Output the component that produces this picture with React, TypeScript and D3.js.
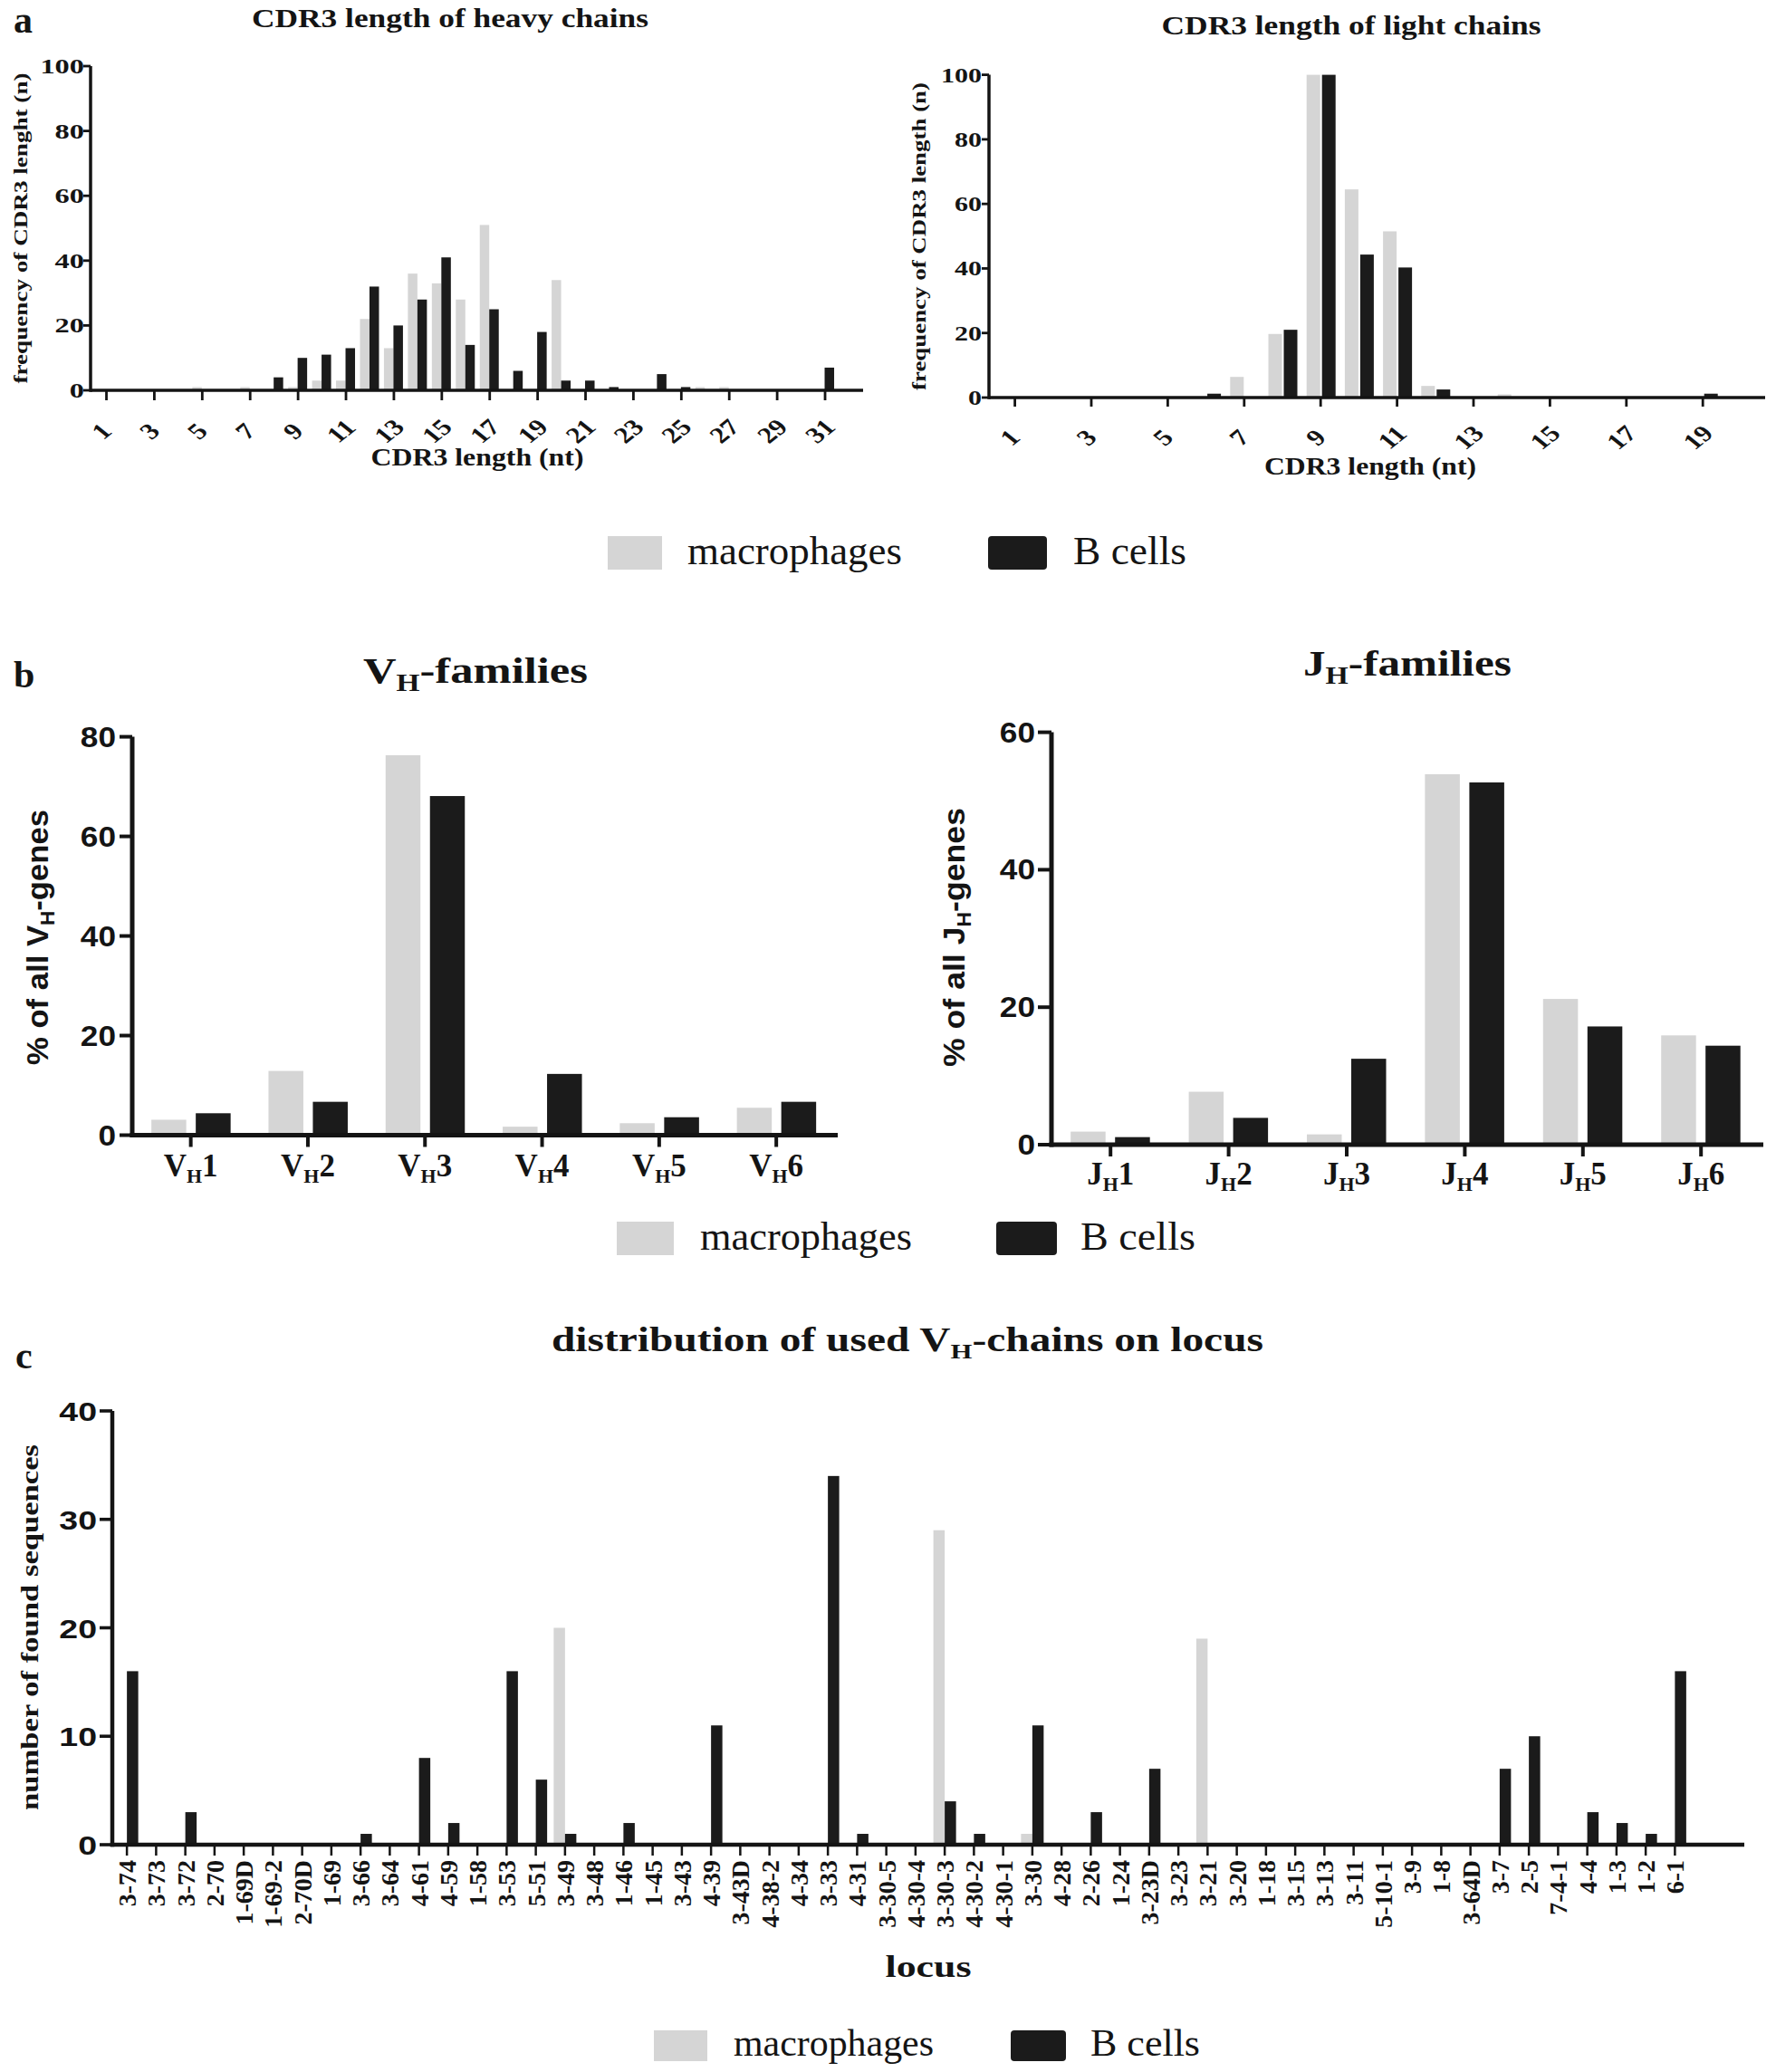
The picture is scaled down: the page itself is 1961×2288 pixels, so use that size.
import React from "react";
import * as d3 from "d3";

const GREY = "#d5d5d5";
const BLACK = "#1b1b1b";
const INK = "#141414";
const SERIF = "Liberation Serif, Times New Roman, serif";
const SANS = "Liberation Sans, Arial, sans-serif";

// a: CDR3 length of heavy chains
const heavyLengths = [1, 2, 3, 4, 5, 6, 7, 8, 9, 10, 11, 12, 13, 14, 15, 16, 17, 18, 19, 20, 21, 22, 23, 24, 25, 26, 27, 28, 29, 30, 31, 32];
const heavyMacrophages = [0, 0, 0, 0, 1, 0, 1, 0, 1, 3, 3, 22, 13, 36, 33, 28, 51, 0, 0, 34, 0, 0, 0, 0, 0, 1, 1, 0, 0, 0, 0, 0];
const heavyBcells = [0, 0, 0, 0, 0, 0, 0, 4, 10, 11, 13, 32, 20, 28, 41, 14, 25, 6, 18, 3, 3, 1, 0, 5, 1, 0, 0, 0, 0, 0, 7, 0];
const heavyTickLabels = [1, 3, 5, 7, 9, 11, 13, 15, 17, 19, 21, 23, 25, 27, 29, 31];
const heavyYTicks = [0, 20, 40, 60, 80, 100];

// a: CDR3 length of light chains
const lightLengths = [1, 2, 3, 4, 5, 6, 7, 8, 9, 10, 11, 12, 13, 14, 15, 16, 17, 18, 19, 20];
const lightMacrophages = [0, 0, 0, 0, 0, 0, 6.4, 19.7, 100, 64.5, 51.5, 3.6, 0, 1, 0, 0, 0, 0, 0, 0];
const lightBcells = [0, 0, 0, 0, 0, 1.2, 0, 21, 100, 44.3, 40.3, 2.5, 0, 0, 0, 0, 0, 0, 1.2, 0];
const lightTickLabels = [1, 3, 5, 7, 9, 11, 13, 15, 17, 19];
const lightYTicks = [0, 20, 40, 60, 80, 100];

// b: VH / JH families
const vhFamilies = ["1", "2", "3", "4", "5", "6"];
const vhMacrophages = [3.1, 12.9, 76.3, 1.7, 2.4, 5.5];
const vhBcells = [4.4, 6.7, 68.1, 12.3, 3.6, 6.7];
const vhYTicks = [0, 20, 40, 60, 80];

const jhFamilies = ["1", "2", "3", "4", "5", "6"];
const jhMacrophages = [1.9, 7.7, 1.5, 53.9, 21.2, 15.9];
const jhBcells = [1.1, 3.9, 12.5, 52.7, 17.2, 14.4];
const jhYTicks = [0, 20, 40, 60];

// c: VH chains on locus
const loci = [
  "3-74", "3-73", "3-72", "2-70", "1-69D", "1-69-2", "2-70D", "1-69", "3-66", "3-64",
  "4-61", "4-59", "1-58", "3-53", "5-51", "3-49", "3-48", "1-46", "1-45", "3-43",
  "4-39", "3-43D", "4-38-2", "4-34", "3-33", "4-31", "3-30-5", "4-30-4", "3-30-3", "4-30-2",
  "4-30-1", "3-30", "4-28", "2-26", "1-24", "3-23D", "3-23", "3-21", "3-20", "1-18",
  "3-15", "3-13", "3-11", "5-10-1", "3-9", "1-8", "3-64D", "3-7", "2-5", "7-4-1",
  "4-4", "1-3", "1-2", "6-1",
];
const locusMacrophages = [
  0, 0, 0, 0, 0, 0, 0, 0, 0, 0,
  0, 0, 0, 0, 0, 20, 0, 0, 0, 0,
  0, 0, 0, 0, 0, 0, 0, 0, 29, 0,
  0, 1, 0, 0, 0, 0, 0, 19, 0, 0,
  0, 0, 0, 0, 0, 0, 0, 0, 0, 0,
  0, 0, 0, 0,
];
const locusBcells = [
  16, 0, 3, 0, 0, 0, 0, 0, 1, 0,
  8, 2, 0, 16, 6, 1, 0, 2, 0, 0,
  11, 0, 0, 0, 34, 1, 0, 0, 4, 1,
  0, 11, 0, 3, 0, 7, 0, 0, 0, 0,
  0, 0, 0, 0, 0, 0, 0, 7, 10, 0,
  3, 2, 1, 16,
];
const locusYTicks = [0, 10, 20, 30, 40];

const legendLabels = ["macrophages", "B cells"];

type Band = d3.ScaleBand<any>;
type Lin = d3.ScaleLinear<number, number>;

// grey bar left of the category centre, black bar right of it
function Bars({ cats, macro, bcells, x, y, w, gOff, bOff }: {
  cats: any[]; macro: number[]; bcells: number[]; x: Band; y: Lin; w: number; gOff: number; bOff: number;
}) {
  return (
    <g>
      {cats.map((c, i) => {
        const cx = (x(c) as number) + x.bandwidth() / 2;
        return (
          <g key={i}>
            {macro[i] > 0 && (
              <rect x={cx + gOff} y={y(macro[i])} width={w} height={y(0) - y(macro[i])} fill={GREY} />
            )}
            {bcells[i] > 0 && (
              <rect x={cx + bOff} y={y(bcells[i])} width={w} height={y(0) - y(bcells[i])} fill={BLACK} />
            )}
          </g>
        );
      })}
    </g>
  );
}

// text with horizontal stretch (the original figure is widened)
function St({ x, y, sx = 1, rot = 0, children, ...rest }: any) {
  return (
    <text transform={`translate(${x},${y}) scale(${sx},1) rotate(${rot})`} fill={INK} {...rest}>
      {children}
    </text>
  );
}

function YAxis({ x, y, ticks, tickLen, sw, labelX, font, size, sx, weight = "bold", dy }: any) {
  return (
    <g>
      <line x1={x} x2={x} y1={y(0) + sw / 2} y2={y(ticks[ticks.length - 1])} stroke={INK} strokeWidth={sw} />
      {ticks.map((t: number) => (
        <g key={t}>
          <line x1={x - tickLen} x2={x} y1={y(t)} y2={y(t)} stroke={INK} strokeWidth={sw * 0.8} />
          <St x={labelX} y={y(t) + dy} sx={sx} textAnchor="end" fontFamily={font} fontSize={size} fontWeight={weight}>
            {t}
          </St>
        </g>
      ))}
    </g>
  );
}

function Legend({ gx, tx, bx, bt, y, h, gw, bw, base, size, l1, l2 }: any) {
  return (
    <g>
      <rect x={gx} y={y} width={gw} height={h} fill={GREY} />
      <text x={tx} y={base} fontFamily={SERIF} fontSize={size} fill={INK} textLength={l1} lengthAdjust="spacingAndGlyphs">
        {legendLabels[0]}
      </text>
      <rect x={bx} y={y} width={bw} height={h} rx={4} fill={BLACK} />
      <text x={bt} y={base} fontFamily={SERIF} fontSize={size} fill={INK} textLength={l2} lengthAdjust="spacingAndGlyphs">
        {legendLabels[1]}
      </text>
    </g>
  );
}

function Sub({ a, s, b, size, dy }: any) {
  return (
    <>
      <tspan>{a}</tspan>
      <tspan fontSize={size} dy={dy}>{s}</tspan>
      <tspan dy={-dy}>{b}</tspan>
    </>
  );
}

export default function App() {
  // ---- panel a scales
  const heavyX = d3.scaleBand<number>().domain(heavyLengths).range([104.3, 950.7]);
  const heavyY = d3.scaleLinear().domain([0, 100]).range([431, 73]);
  const lightX = d3.scaleBand<number>().domain(lightLengths).range([1099.5, 1943.5]);
  const lightY = d3.scaleLinear().domain([0, 100]).range([439, 82.6]);
  // ---- panel b scales
  const vhX = d3.scaleBand<string>().domain(vhFamilies).range([146, 921.8]);
  const vhY = d3.scaleLinear().domain([0, 80]).range([1253.5, 813.6]);
  const jhX = d3.scaleBand<string>().domain(jhFamilies).range([1161, 1943.4]);
  const jhY = d3.scaleLinear().domain([0, 60]).range([1264, 808.6]);
  // ---- panel c scales
  const locX = d3.scaleBand<string>().domain(loci).range([124, 1865.5]);
  const locY = d3.scaleLinear().domain([0, 40]).range([2037, 1558]);

  const mid = (x: Band, c: any) => (x(c) as number) + x.bandwidth() / 2;

  return (
    <svg width={1961} height={2288} style={{ position: "absolute", left: 0, top: 0, background: "#fff" }}>
      <rect width={1961} height={2288} fill="#fff" />

      {/* ================= a ================= */}
      <text x={15} y={36} fontFamily={SERIF} fontSize={42} fontWeight="bold" fill={INK}>a</text>

      {/* heavy chains */}
      <text x={497} y={30} textAnchor="middle" fontFamily={SERIF} fontSize={29} fontWeight="bold" fill={INK}
        textLength={438} lengthAdjust="spacingAndGlyphs">CDR3 length of heavy chains</text>
      <Bars cats={heavyLengths} macro={heavyMacrophages} bcells={heavyBcells} x={heavyX} y={heavyY} w={10.5} gOff={-11} bOff={-0.5} />
      <YAxis x={100} y={heavyY} ticks={heavyYTicks} tickLen={8} sw={3.5} labelX={93} font={SERIF} size={24} sx={1.35} dy={8} />
      <line x1={100} x2={953} y1={heavyY(0)} y2={heavyY(0)} stroke={INK} strokeWidth={3.5} />
      {heavyTickLabels.map((t) => (
        <g key={t}>
          <line x1={mid(heavyX, t)} x2={mid(heavyX, t)} y1={heavyY(0)} y2={heavyY(0) + 11} stroke={INK} strokeWidth={2.8} />
          <St x={mid(heavyX, t) + 2} y={482} sx={1.25} rot={-45} textAnchor="middle" fontFamily={SERIF} fontSize={25} fontWeight="bold">{t}</St>
        </g>
      ))}
      <text transform="translate(30,252) rotate(-90)" textAnchor="middle" fontFamily={SERIF} fontSize={22} fontWeight="bold" fill={INK}
        textLength={343} lengthAdjust="spacingAndGlyphs">frequency of CDR3 lenght (n)</text>
      <text x={527} y={514} textAnchor="middle" fontFamily={SERIF} fontSize={28} fontWeight="bold" fill={INK}
        textLength={235} lengthAdjust="spacingAndGlyphs">CDR3 length (nt)</text>

      {/* light chains */}
      <text x={1492} y={38} textAnchor="middle" fontFamily={SERIF} fontSize={29} fontWeight="bold" fill={INK}
        textLength={419} lengthAdjust="spacingAndGlyphs">CDR3 length of light chains</text>
      <Bars cats={lightLengths} macro={lightMacrophages} bcells={lightBcells} x={lightX} y={lightY} w={15} gOff={-15.5} bOff={1.5} />
      <YAxis x={1092} y={lightY} ticks={lightYTicks} tickLen={8} sw={3.5} labelX={1084} font={SERIF} size={24} sx={1.25} dy={8} />
      <line x1={1092} x2={1949} y1={lightY(0)} y2={lightY(0)} stroke={INK} strokeWidth={3.5} />
      {lightTickLabels.map((t) => (
        <g key={t}>
          <line x1={mid(lightX, t)} x2={mid(lightX, t)} y1={lightY(0)} y2={lightY(0) + 10} stroke={INK} strokeWidth={2.8} />
          <St x={mid(lightX, t) + 2} y={489} sx={1.25} rot={-45} textAnchor="middle" fontFamily={SERIF} fontSize={25} fontWeight="bold">{t}</St>
        </g>
      ))}
      <text transform="translate(1022,261) rotate(-90)" textAnchor="middle" fontFamily={SERIF} fontSize={22} fontWeight="bold" fill={INK}
        textLength={340} lengthAdjust="spacingAndGlyphs">frequency of CDR3 length (n)</text>
      <text x={1513} y={524} textAnchor="middle" fontFamily={SERIF} fontSize={28} fontWeight="bold" fill={INK}
        textLength={234} lengthAdjust="spacingAndGlyphs">CDR3 length (nt)</text>

      <Legend gx={671} tx={759} bx={1091} bt={1185} y={592} h={37} gw={60} bw={65} base={623} size={44} l1={237} l2={125} />

      {/* ================= b ================= */}
      <text x={15} y={759} fontFamily={SERIF} fontSize={42} fontWeight="bold" fill={INK}>b</text>

      {/* VH families */}
      <text x={525} y={754} textAnchor="middle" fontFamily={SERIF} fontSize={41} fontWeight="bold" fill={INK}
        textLength={248} lengthAdjust="spacingAndGlyphs">
        <Sub a="V" s="H" b="-families" size={27} dy={9} />
      </text>
      <Bars cats={vhFamilies} macro={vhMacrophages} bcells={vhBcells} x={vhX} y={vhY} w={38.5} gOff={-43.5} bOff={5.5} />
      <YAxis x={146} y={vhY} ticks={vhYTicks} tickLen={14} sw={5} labelX={128} font={SANS} size={32} sx={1.1} dy={11} />
      <line x1={143.5} x2={925} y1={vhY(0)} y2={vhY(0)} stroke={INK} strokeWidth={5} />
      {vhFamilies.map((f) => (
        <g key={f}>
          <line x1={mid(vhX, f)} x2={mid(vhX, f)} y1={vhY(0)} y2={vhY(0) + 13} stroke={INK} strokeWidth={4} />
          <text x={mid(vhX, f)} y={1299} textAnchor="middle" fontFamily={SERIF} fontSize={35} fontWeight="bold" fill={INK}>
            <Sub a="V" s="H" b={f} size={22} dy={7} />
          </text>
        </g>
      ))}
      <text transform="translate(53,1035) rotate(-90)" textAnchor="middle" fontFamily={SANS} fontSize={34} fontWeight="bold" fill={INK}
        textLength={282} lengthAdjust="spacingAndGlyphs">
        <Sub a="% of all V" s="H" b="-genes" size={22} dy={7} />
      </text>

      {/* JH families */}
      <text x={1554} y={746} textAnchor="middle" fontFamily={SERIF} fontSize={41} fontWeight="bold" fill={INK}
        textLength={230} lengthAdjust="spacingAndGlyphs">
        <Sub a="J" s="H" b="-families" size={27} dy={9} />
      </text>
      <Bars cats={jhFamilies} macro={jhMacrophages} bcells={jhBcells} x={jhX} y={jhY} w={38.5} gOff={-44} bOff={5} />
      <YAxis x={1161} y={jhY} ticks={jhYTicks} tickLen={15} sw={5} labelX={1143} font={SANS} size={32} sx={1.1} dy={11} />
      <line x1={1158.5} x2={1947} y1={jhY(0)} y2={jhY(0)} stroke={INK} strokeWidth={5} />
      {jhFamilies.map((f) => (
        <g key={f}>
          <line x1={mid(jhX, f)} x2={mid(jhX, f)} y1={jhY(0)} y2={jhY(0) + 13} stroke={INK} strokeWidth={4} />
          <text x={mid(jhX, f)} y={1308} textAnchor="middle" fontFamily={SERIF} fontSize={35} fontWeight="bold" fill={INK}>
            <Sub a="J" s="H" b={f} size={22} dy={7} />
          </text>
        </g>
      ))}
      <text transform="translate(1065,1035) rotate(-90)" textAnchor="middle" fontFamily={SANS} fontSize={34} fontWeight="bold" fill={INK}
        textLength={286} lengthAdjust="spacingAndGlyphs">
        <Sub a="% of all J" s="H" b="-genes" size={22} dy={7} />
      </text>

      <Legend gx={681} tx={773} bx={1100} bt={1193} y={1349} h={37} gw={63} bw={67} base={1380} size={44} l1={234} l2={127} />

      {/* ================= c ================= */}
      <text x={17} y={1511} fontFamily={SERIF} fontSize={42} fontWeight="bold" fill={INK}>c</text>
      <text x={1002} y={1492} textAnchor="middle" fontFamily={SERIF} fontSize={37} fontWeight="bold" fill={INK}
        textLength={786} lengthAdjust="spacingAndGlyphs">
        <Sub a="distribution of used V" s="H" b="-chains on locus" size={24} dy={8} />
      </text>
      <Bars cats={loci} macro={locusMacrophages} bcells={locusBcells} x={locX} y={locY} w={12.5} gOff={-12.5} bOff={0} />
      <YAxis x={124} y={locY} ticks={locusYTicks} tickLen={14} sw={4.5} labelX={107} font={SANS} size={30} sx={1.25} dy={11} />
      <line x1={121.75} x2={1926} y1={locY(0)} y2={locY(0)} stroke={INK} strokeWidth={4.5} />
      {loci.map((l) => (
        <g key={l}>
          <line x1={mid(locX, l)} x2={mid(locX, l)} y1={locY(0)} y2={locY(0) + 12} stroke={INK} strokeWidth={2.5} />
          <text transform={`translate(${mid(locX, l) + 10},2054) rotate(-90)`} textAnchor="end" fontFamily={SERIF} fontSize={28} fontWeight="bold" fill={INK}>
            {l}
          </text>
        </g>
      ))}
      <text transform="translate(42,1797) rotate(-90)" textAnchor="middle" fontFamily={SERIF} fontSize={27} fontWeight="bold" fill={INK}
        textLength={404} lengthAdjust="spacingAndGlyphs">number of found sequences</text>
      <text x={1025} y={2183} textAnchor="middle" fontFamily={SERIF} fontSize={34} fontWeight="bold" fill={INK}
        textLength={95} lengthAdjust="spacingAndGlyphs">locus</text>

      <Legend gx={722} tx={810} bx={1116} bt={1204} y={2242} h={34} gw={59} bw={61} base={2270} size={42} l1={221} l2={121} />
    </svg>
  );
}
